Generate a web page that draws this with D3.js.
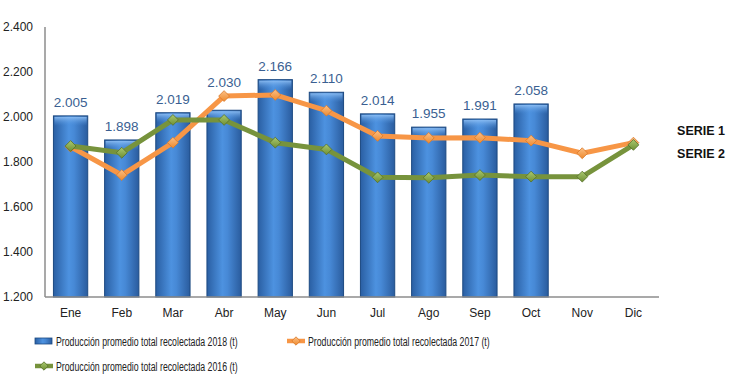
<!DOCTYPE html>
<html>
<head>
<meta charset="utf-8">
<script src="https://cdn.jsdelivr.net/npm/d3@7"></script>
<style>
  body { margin: 0; background: #fff; }
  svg { font-family: "Liberation Sans Narrow", "Arial Narrow", "Liberation Sans", sans-serif; }
</style>
</head>
<body>
<svg id="chart" width="740" height="388"></svg>
<script>
const months = ["Ene", "Feb", "Mar", "Abr", "May", "Jun", "Jul", "Ago", "Sep", "Oct", "Nov", "Dic"]
const prod2018 = [2005, 1898, 2019, 2030, 2166, 2110, 2014, 1955, 1991, 2058, null, null]
const prod2017 = [1868, 1742, 1886, 2093, 2098, 2028, 1916, 1907, 1908, 1895, 1839, 1886]
const prod2016 = [1871, 1841, 1987, 1987, 1886, 1856, 1732, 1730, 1742, 1735, 1735, 1876]
const yTicks = [1200, 1400, 1600, 1800, 2000, 2200, 2400]
const legendNames = [
    "Producción promedio total recolectada 2018 (t)",
    "Producción promedio total recolectada 2017 (t)",
    "Producción promedio total recolectada 2016 (t)"
]
const serieLabels = ["SERIE 1", "SERIE 2"]

const fmt = v => d3.format(",")(v).replace(/,/g, ".")

const svg = d3.select("#chart")
const margin = { top: 27, left: 45 }
const width = 614
const height = 270

const x = d3.scaleBand()
    .domain(months)
    .range([0, width])
    .paddingInner(0.33)
    .paddingOuter(0.165)
const y = d3.scaleLinear()
    .domain([1200, 2400])
    .range([height, 0])
const cx = m => x(m) + x.bandwidth() / 2

// gradients
const defs = svg.append("defs")
const barGrad = defs.append("linearGradient").attr("id", "barGrad")
    .attr("x1", "0").attr("x2", "1").attr("y1", "0").attr("y2", "0")
barGrad.append("stop").attr("offset", "0%").attr("stop-color", "#2a5fa3")
barGrad.append("stop").attr("offset", "45%").attr("stop-color", "#4d92e0")
barGrad.append("stop").attr("offset", "60%").attr("stop-color", "#4789d6")
barGrad.append("stop").attr("offset", "100%").attr("stop-color", "#2a5c9e")
const topGrad = defs.append("linearGradient").attr("id", "topGrad")
    .attr("x1", "0").attr("x2", "0").attr("y1", "0").attr("y2", "1")
topGrad.append("stop").attr("offset", "0%").attr("stop-color", "#8fc0f5").attr("stop-opacity", 0.9)
topGrad.append("stop").attr("offset", "100%").attr("stop-color", "#4b8fdc").attr("stop-opacity", 0)

function diamondGrad(id, light, dark) {
    const g = defs.append("linearGradient").attr("id", id)
        .attr("x1", "0").attr("x2", "0").attr("y1", "0").attr("y2", "1")
    g.append("stop").attr("offset", "0%").attr("stop-color", light)
    g.append("stop").attr("offset", "100%").attr("stop-color", dark)
}
diamondGrad("orangeGrad", "#fbbf85", "#ee8a2e")
diamondGrad("greenGrad", "#a9c970", "#6f8f33")

const chart = svg.append("g")
    .attr("transform", `translate(${margin.left}, ${margin.top})`)

// y labels
chart.selectAll(".ylab")
    .data(yTicks)
    .enter()
    .append("text")
    .attr("class", "ylab")
    .attr("x", -12)
    .attr("y", d => y(d))
    .attr("dy", "0.35em")
    .attr("text-anchor", "end")
    .attr("font-size", 12)
    .attr("fill", "#222")
    .text(fmt)

// bars
const barData = months.map((m, i) => ({ m, v: prod2018[i], top: Math.max(prod2018[i], prod2017[i]) }))
    .filter(d => d.v != null)
const bars = chart.selectAll(".bar")
    .data(barData)
    .enter()
    .append("g")
    .attr("class", "bar")
bars.append("rect")
    .attr("x", d => x(d.m))
    .attr("y", d => y(d.v))
    .attr("width", x.bandwidth())
    .attr("height", d => height - y(d.v))
    .attr("fill", "url(#barGrad)")
    .attr("stroke", "#1d4a82")
    .attr("stroke-width", 1)
bars.append("rect")
    .attr("x", d => x(d.m) + 1)
    .attr("y", d => y(d.v) + 1)
    .attr("width", x.bandwidth() - 2)
    .attr("height", 9)
    .attr("fill", "url(#topGrad)")

// lines
const lineGen = d3.line()
    .x((d, i) => cx(months[i]))
    .y(d => y(d))
const diamond = d3.symbol().type(d3.symbolDiamond2).size(75)

function drawSeries(values, color, grad, stroke) {
    chart.append("path")
        .datum(values)
        .attr("d", lineGen)
        .attr("fill", "none")
        .attr("stroke", color)
        .attr("stroke-width", 5)
        .attr("stroke-linejoin", "round")
    chart.selectAll(null)
        .data(values)
        .enter()
        .append("path")
        .attr("d", diamond)
        .attr("transform", (d, i) => `translate(${cx(months[i])}, ${y(d)})`)
        .attr("fill", `url(#${grad})`)
        .attr("stroke", stroke)
        .attr("stroke-width", 0.8)
}
drawSeries(prod2017, "#f79646", "orangeGrad", "#d9782a")
drawSeries(prod2016, "#77933c", "greenGrad", "#56702a")

// bar value labels, kept above the 2017 marker when it sits higher
bars.append("text")
    .attr("x", d => cx(d.m))
    .attr("y", d => y(d.top) - 9)
    .attr("text-anchor", "middle")
    .attr("font-size", 13.5)
    .attr("fill", "#3a5f92")
    .text(d => fmt(d.v))

// axes lines
chart.append("line")
    .attr("x1", 0).attr("x2", 0)
    .attr("y1", 0).attr("y2", height)
    .attr("stroke", "#8c8c8c").attr("stroke-width", 1.5)
chart.append("line")
    .attr("x1", 0).attr("x2", width)
    .attr("y1", height).attr("y2", height)
    .attr("stroke", "#8c8c8c").attr("stroke-width", 1.5)

// month labels
chart.selectAll(".xlab")
    .data(months)
    .enter()
    .append("text")
    .attr("class", "xlab")
    .attr("x", d => cx(d))
    .attr("y", height + 16)
    .attr("dy", "0.35em")
    .attr("text-anchor", "middle")
    .attr("font-size", 12)
    .attr("fill", "#222")
    .text(d => d)

// serie labels
svg.selectAll(".serie")
    .data(serieLabels)
    .enter()
    .append("text")
    .attr("class", "serie")
    .attr("x", 725)
    .attr("y", (d, i) => 131 + i * 23)
    .attr("dy", "0.35em")
    .attr("text-anchor", "end")
    .attr("font-size", 12.5)
    .attr("font-weight", "bold")
    .attr("fill", "#111")
    .text(d => d)

// legend
const legendPos = [[35, 341], [287, 341], [35, 366]]
const legendTextWidth = 182
const legend = svg.append("g").attr("class", "legend-box")
legendNames.forEach((name, i) => {
    const [lx, ly] = legendPos[i]
    const g = legend.append("g").attr("transform", `translate(${lx}, ${ly})`)
    if (i === 0) {
        g.append("rect")
            .attr("x", 0).attr("y", -3)
            .attr("width", 17).attr("height", 6)
            .attr("fill", "url(#barGrad)")
            .attr("stroke", "#1d4a82").attr("stroke-width", 0.8)
    } else {
        const col = i === 1 ? "#f79646" : "#77933c"
        g.append("line")
            .attr("x1", 0).attr("x2", 18)
            .attr("y1", 0).attr("y2", 0)
            .attr("stroke", col).attr("stroke-width", 4.5)
        g.append("path")
            .attr("d", d3.symbol().type(d3.symbolDiamond2).size(45))
            .attr("transform", "translate(9, 0)")
            .attr("fill", i === 1 ? "url(#orangeGrad)" : "url(#greenGrad)")
            .attr("stroke", i === 1 ? "#d9782a" : "#56702a")
            .attr("stroke-width", 0.8)
    }
    // squeeze the text horizontally to mimic the narrow font of the original
    const t = g.append("text")
        .attr("y", 0)
        .attr("dy", "0.35em")
        .attr("font-size", 13.5)
        .attr("fill", "#222")
        .text(name)
    const k = legendTextWidth / t.node().getComputedTextLength()
    t.attr("transform", `translate(21, 0) scale(${k}, 1)`)
})
</script>
</body>
</html>
